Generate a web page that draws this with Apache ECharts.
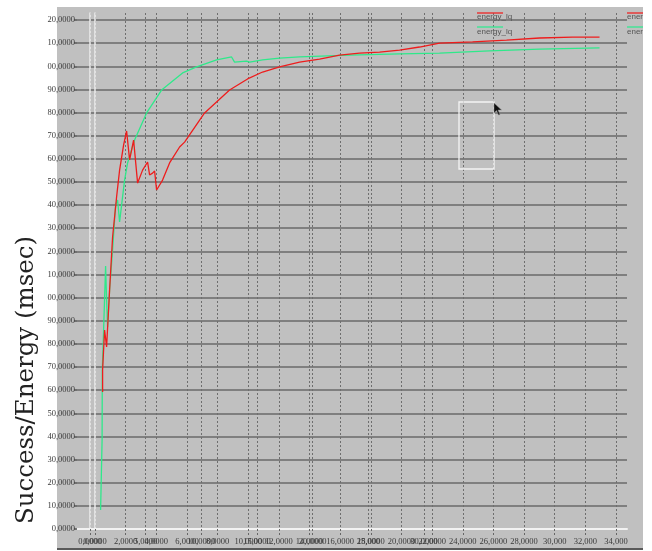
<!DOCTYPE html>
<html>
<head>
<meta charset="utf-8">
<script src="https://cdn.jsdelivr.net/npm/echarts@6/dist/echarts.min.js"></script>
<style>html,body{margin:0;padding:0;background:#fff}#c{width:652px;height:551px}</style>
</head>
<body>
<div id="c"></div>
<script>
// Tick labels as printed in the picture
var yTickLabels = ["0,0000","10,0000","20,0000","30,0000","40,0000","50,0000","60,0000","70,0000","80,0000","90,0000","00,0000","10,0000","20,0000","30,0000","40,0000","50,0000","60,0000","70,0000","80,0000","90,0000","00,0000","10,0000","20,0000"];
var xTickLabelsA = ["0,0000","2,0000","4,0000","6,0000","8,0000","10,0000","12,0000","14,0000","16,0000","18,0000","20,0000","22,0000","24,0000","26,0000","28,0000","30,000","32,000","34,000"];
var xTickLabelsB = ["0,0000","5,0000","10,0000","15,0000","20,0000","25,000","30,0000"];
var legendNames = ["energy_lq","energy_lq"];
var yTitle = "Success/Energy (msec)";

// Series (x, y)
var redX = [496,496,626,757,953,1148,1409,1605,1866,2062,2258,2519,2780,3106,3432,3563,3758,3889,4019,4410,4867,5520,5846,7151,8782,9957,10936,12045,13350,14655,15960,17265,18570,19875,21180,22485,24638,26857,29010,31163,32925];
var redY = [5.92,6.87,8.60,7.87,10.33,12.62,14.35,15.51,16.59,17.20,15.95,16.81,14.95,15.51,15.86,15.30,15.38,15.47,14.65,15.08,15.82,16.51,16.72,17.98,18.97,19.45,19.75,19.97,20.18,20.31,20.48,20.57,20.61,20.70,20.83,21.00,21.05,21.13,21.22,21.26,21.26];
var greenX = [365,463,476,561,692,757,822,953,1148,1344,1474,1605,1736,1931,2127,2584,3367,4345,5716,6629,7934,8913,9108,9892,10088,10936,12045,13350,16613,19875,22485,25747,29010,32925];
var greenY = [0.82,3.85,6.87,8.60,11.37,9.90,8.73,10.33,12.06,14.00,14.22,13.27,14.00,15.08,15.82,16.81,17.98,18.97,19.71,19.97,20.27,20.40,20.18,20.22,20.18,20.27,20.35,20.40,20.48,20.53,20.57,20.66,20.74,20.79];

function pairs(xs, ys){ return xs.map(function(x,i){ return [x, ys[i]]; }); }

var lblFont = {fontFamily:'Liberation Serif', fontSize:8.5, color:'#3a3a3a'};
var chart = echarts.init(document.getElementById('c'));
chart.setOption({
  backgroundColor:'#ffffff',
  animation:false,
  graphic:[
    {type:'rect', z:-10, shape:{x:57,y:7,width:586,height:541}, style:{fill:'#c0c0c0'}},
    {type:'line', z:-10, shape:{x1:57,y1:549,x2:645,y2:549}, style:{stroke:'#222',lineWidth:1.5}},
    {type:'text', x:27, y:380, rotation:Math.PI/2, style:{text:yTitle, font:'24.5px "DejaVu Serif"', fill:'#222', align:'center', verticalAlign:'middle'}},
    {type:'rect', z:50, shape:{x:459,y:102,width:35,height:67}, style:{fill:null, stroke:'#f4f4f4', lineWidth:1.3}},
    {type:'polygon', z:51, shape:{points:[[494,103],[494,113],[496.5,110.5],[498.5,115],[500,114.5],[498,110],[501.5,110]]}, style:{fill:'#111', stroke:'#888', lineWidth:0.5}},
    {type:'line', z:50, shape:{x1:477,y1:13,x2:503,y2:13}, style:{stroke:'#ee2222',lineWidth:1.3}},
    {type:'text', z:50, x:477, y:16.5, style:{text:legendNames[0], font:'8px "Liberation Sans"', fill:'#555', verticalAlign:'middle'}},
    {type:'line', z:50, shape:{x1:477,y1:27,x2:503,y2:27}, style:{stroke:'#33e890',lineWidth:1.3}},
    {type:'text', z:50, x:477, y:32, style:{text:legendNames[1], font:'8px "Liberation Sans"', fill:'#555', verticalAlign:'middle'}},
    {type:'line', z:50, shape:{x1:627,y1:13,x2:652,y2:13}, style:{stroke:'#ee2222',lineWidth:1.3}},
    {type:'text', z:50, x:627, y:16.5, style:{text:legendNames[0], font:'8px "Liberation Sans"', fill:'#555', verticalAlign:'middle'}},
    {type:'line', z:50, shape:{x1:627,y1:27,x2:652,y2:27}, style:{stroke:'#33e890',lineWidth:1.3}},
    {type:'text', z:50, x:627, y:32, style:{text:legendNames[1], font:'8px "Liberation Sans"', fill:'#555', verticalAlign:'middle'}},
    {type:'rect', z:60, shape:{x:643,y:0,width:9,height:551}, style:{fill:'#ffffff'}}
  ],
  grid:[
    {left:77, right:25, top:20, bottom:22},
    {left:95, width:521, top:13, bottom:22},
    {left:90, width:334, top:13, bottom:22}
  ],
  xAxis:[
    {gridIndex:0, type:'value', min:0, max:1, axisLabel:{show:false}, axisTick:{show:false}, splitLine:{show:false},
     axisLine:{show:true, lineStyle:{color:'#f2f2f2', width:2}}},
    {gridIndex:1, type:'value', min:0, max:34000, interval:2000,
     axisLine:{show:false}, axisTick:{show:true, length:6, lineStyle:{color:'#666', type:[2,2]}},
     splitLine:{show:true, lineStyle:{color:'#6e6e6e', type:[2,2], width:1}},
     axisLabel:Object.assign({margin:8, formatter:function(v){ return xTickLabelsA[Math.round(v/2000)]||''; }}, lblFont)},
    {gridIndex:2, type:'value', min:0, max:30000, interval:5000,
     axisLine:{show:false}, axisTick:{show:true, length:6, lineStyle:{color:'#666', type:[2,2]}},
     splitLine:{show:true, lineStyle:{color:'#6e6e6e', type:[2,2], width:1}},
     axisLabel:Object.assign({margin:8, formatter:function(v){ return xTickLabelsB[Math.round(v/5000)]||''; }}, lblFont)}
  ],
  yAxis:[
    {gridIndex:0, type:'value', min:0, max:22, interval:1,
     axisLine:{show:false}, axisTick:{show:true, length:3, lineStyle:{color:'#555', width:1.5}},
     splitLine:{show:true, lineStyle:{color:'#6a6a6a', width:1.5}},
     axisLabel:Object.assign({margin:2, formatter:function(v){ return yTickLabels[Math.round(v)]; }}, lblFont)},
    {gridIndex:1, type:'value', min:0, max:22.3, axisLabel:{show:false}, axisTick:{show:false}, splitLine:{show:false},
     axisLine:{show:true, lineStyle:{color:'#ececec', width:1.5}}},
    {gridIndex:2, type:'value', min:0, max:22.3, axisLabel:{show:false}, axisTick:{show:false}, splitLine:{show:false},
     axisLine:{show:true, lineStyle:{color:'#ececec', width:1.5}}}
  ],
  series:[
    {type:'line', xAxisIndex:1, yAxisIndex:1, data:pairs(greenX, greenY), showSymbol:false, lineStyle:{color:'#2ee98a', width:1.3}},
    {type:'line', xAxisIndex:1, yAxisIndex:1, data:pairs(redX, redY), showSymbol:false, lineStyle:{color:'#ee1c1c', width:1.3}}
  ]
});
</script>
</body>
</html>
